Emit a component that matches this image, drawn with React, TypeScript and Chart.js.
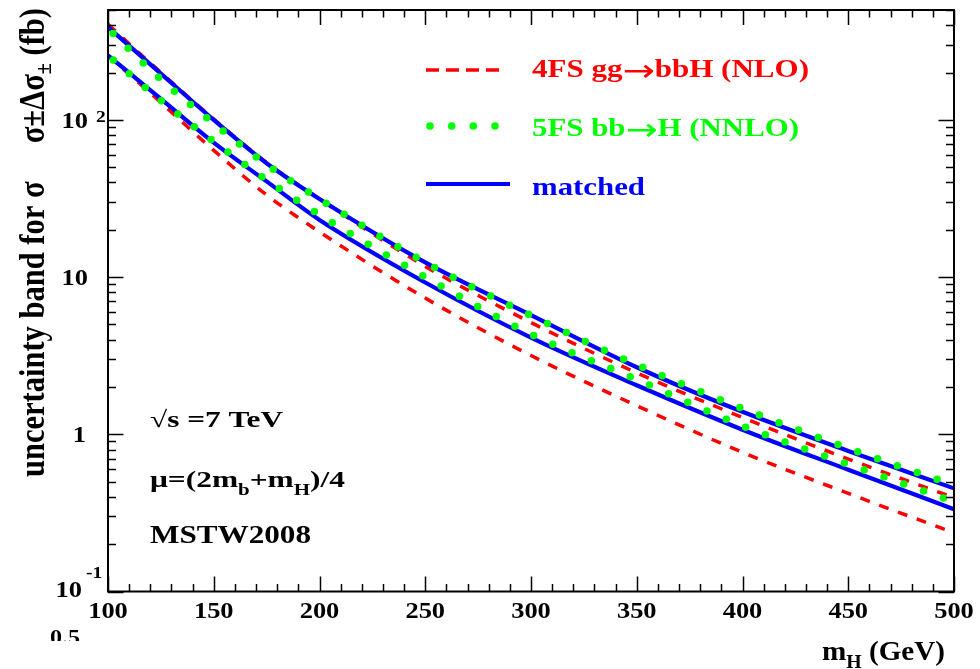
import React, { useEffect, useRef } from "react";
import { Chart, registerables } from "chart.js";

Chart.register(...registerables);

// ---- data ----
const massGeV = [100, 125, 150, 175, 200, 250, 300, 350, 400, 450, 500];
const fs4Upper = [405, 200, 101, 53.5, 31.4, 11.7, 5.14, 2.46, 1.28, 0.696, 0.395];
const fs4Lower = [257, 129, 64, 33.3, 19.4, 7.35, 3.17, 1.52, 0.768, 0.421, 0.236];
const fs5Upper = [380, 181, 95, 52, 31.4, 12.4, 5.7, 2.77, 1.46, 0.814, 0.475];
const fs5Lower = [257, 133, 72.8, 41.5, 24.9, 10.0, 4.33, 2.23, 1.13, 0.644, 0.372];
const matchedUpper = [389, 197, 100, 53, 31.4, 12.4, 5.73, 2.67, 1.39, 0.783, 0.453];
const matchedLower = [257, 136, 71.7, 40.6, 23.1, 9.24, 4.12, 2.05, 1.07, 0.595, 0.334];

const xTickValues = [100, 150, 200, 250, 300, 350, 400, 450, 500];
const xTickLabels = ["100", "150", "200", "250", "300", "350", "400", "450", "500"];
const yDecadeValues = [0.1, 1, 10, 100];
const infoLines = ["\u221As =7 TeV", "MSTW2008"];

const FONT = '"Liberation Serif", "Times New Roman", serif';
const ARROW_FONT = '"DejaVu Sans", sans-serif';
const RED = "#ff0000";
const GREEN = "#00ff00";
const BLUE = "#0000ff";

type Piece = { t: string; size: number; dy?: number; font?: string; weight?: string };

function fontOf(p: Piece) {
  return `${p.weight ?? "bold"} ${p.size}px ${p.font ?? FONT}`;
}

function drawRich(
  ctx: CanvasRenderingContext2D,
  pieces: Piece[],
  x: number,
  y: number,
  o: { width?: number; sx?: number; align?: "left" | "right" | "center"; color?: string; rot?: number; cross?: number }
) {
  ctx.save();
  let total = 0;
  const widths = pieces.map((p) => {
    ctx.font = fontOf(p);
    const w = ctx.measureText(p.t).width;
    total += w;
    return w;
  });
  const sx = o.width ? o.width / total : o.sx ?? 1;
  const W = total * sx;
  ctx.translate(x, y);
  if (o.rot) ctx.rotate(o.rot);
  let x0 = 0;
  if (o.align === "right") x0 = -W;
  else if (o.align === "center") x0 = -W / 2;
  ctx.translate(x0, 0);
  ctx.scale(sx, o.cross ?? 1);
  ctx.fillStyle = o.color ?? "#000";
  ctx.textAlign = "left";
  ctx.textBaseline = "alphabetic";
  let cx = 0;
  pieces.forEach((p, i) => {
    ctx.font = fontOf(p);
    ctx.fillText(p.t, cx, p.dy ?? 0);
    cx += widths[i];
  });
  ctx.restore();
}

const legend4FS: Piece[] = [
  { t: "4FS gg", size: 25 },
  { t: "\u2192", size: 31, font: ARROW_FONT, weight: "normal", dy: 4 },
  { t: "bbH (NLO)", size: 25 },
];
const legend5FS: Piece[] = [
  { t: "5FS bb", size: 25 },
  { t: "\u2192", size: 31, font: ARROW_FONT, weight: "normal", dy: 4 },
  { t: "H (NNLO)", size: 25 },
];
const legendMatched: Piece[] = [{ t: "matched", size: 25 }];

const decorPlugin = {
  id: "decor",
  afterDatasetsDraw(chart: any) {
    const ctx: CanvasRenderingContext2D = chart.ctx;
    const xs = chart.scales.x;
    const ys = chart.scales.y;
    const { left, right, top, bottom } = chart.chartArea;
    ctx.save();
    ctx.strokeStyle = "#000";
    ctx.lineWidth = 2;
    ctx.setLineDash([]);
    ctx.strokeRect(left, top, right - left, bottom - top);

    // x ticks (bottom + top, inward)
    ctx.lineWidth = 1.5;
    ctx.beginPath();
    for (let v = 100; v <= 500; v += 10) {
      const px = Math.round(xs.getPixelForValue(v)) + 0.5;
      const len = v % 50 === 0 ? 15 : 7.5;
      ctx.moveTo(px, bottom);
      ctx.lineTo(px, bottom - len);
      ctx.moveTo(px, top);
      ctx.lineTo(px, top + len);
    }
    // y ticks (left + right, inward)
    for (const d of yDecadeValues) {
      for (let k = 1; k <= 9; k++) {
        const v = d * k;
        if (v > 500) break;
        const py = Math.round(ys.getPixelForValue(v)) + 0.5;
        const len = k === 1 ? 15.5 : 8;
        ctx.moveTo(left, py);
        ctx.lineTo(left + len, py);
        ctx.moveTo(right, py);
        ctx.lineTo(right - len, py);
      }
    }
    ctx.stroke();

    // x tick labels
    xTickValues.forEach((v, i) => {
      drawRich(ctx, [{ t: xTickLabels[i], size: 23 }], xs.getPixelForValue(v), 618, { sx: 1.15, align: "center" });
    });

    // y tick labels
    const py100 = ys.getPixelForValue(100);
    drawRich(ctx, [{ t: "10", size: 23 }], 88, py100 + 8, { sx: 1.15, align: "right" });
    drawRich(ctx, [{ t: "2", size: 17 }], 96, py100 + 2, { sx: 1.15 });
    const py10 = ys.getPixelForValue(10);
    drawRich(ctx, [{ t: "10", size: 23 }], 88, py10 + 8, { sx: 1.15, align: "right" });
    const py1 = ys.getPixelForValue(1);
    drawRich(ctx, [{ t: "1", size: 23 }], 86, py1 + 8, { sx: 1.15, align: "right" });
    drawRich(ctx, [{ t: "10", size: 23 }], 82, 597, { sx: 1.15, align: "right" });
    drawRich(ctx, [{ t: "-1", size: 17 }], 86, 578, { sx: 1.15 });

    // stray label at the bottom-left
    ctx.save();
    ctx.beginPath();
    ctx.rect(0, 600, 200, 41);
    ctx.clip();
    drawRich(ctx, [{ t: "0.5", size: 21 }], 50, 644, { sx: 1.15 });
    ctx.restore();

    // axis titles
    drawRich(
      ctx,
      [
        { t: "m", size: 28 },
        { t: "H", size: 19, dy: 8 },
        { t: " (GeV)", size: 28 },
      ],
      822,
      660,
      { width: 123 }
    );
    drawRich(
      ctx,
      [
        { t: "uncertainty band for \u03C3     \u03C3\u00B1\u0394\u03C3", size: 30 },
        { t: "\u00B1", size: 20, dy: 6 },
        { t: " (fb)", size: 30 },
      ],
      44,
      477,
      { width: 469, rot: -Math.PI / 2, cross: 1.17 }
    );

    // legend samples
    ctx.lineCap = "butt";
    ctx.strokeStyle = RED;
    ctx.lineWidth = 3.5;
    ctx.setLineDash([13, 7]);
    ctx.beginPath();
    ctx.moveTo(426, 70);
    ctx.lineTo(500, 70);
    ctx.stroke();
    ctx.setLineDash([]);
    ctx.fillStyle = GREEN;
    [430, 451.7, 473.3, 495].forEach((cx) => {
      ctx.beginPath();
      ctx.arc(cx, 126, 3.8, 0, Math.PI * 2);
      ctx.fill();
    });
    ctx.strokeStyle = BLUE;
    ctx.lineWidth = 4;
    ctx.beginPath();
    ctx.moveTo(426, 184);
    ctx.lineTo(510, 184);
    ctx.stroke();

    drawRich(ctx, legend4FS, 532, 77, { width: 277, color: RED });
    drawRich(ctx, legend5FS, 532, 136, { width: 267, color: GREEN });
    drawRich(ctx, legendMatched, 532, 195, { width: 113, color: BLUE });

    // info text
    drawRich(ctx, [{ t: infoLines[0], size: 23 }], 150, 427, { width: 133 });
    drawRich(
      ctx,
      [
        { t: "\u03BC=(2m", size: 24 },
        { t: "b", size: 16, dy: 8 },
        { t: "+m", size: 24 },
        { t: "H", size: 16, dy: 8 },
        { t: ")/4", size: 24 },
      ],
      150,
      487,
      { width: 195 }
    );
    drawRich(ctx, [{ t: infoLines[1], size: 25 }], 150, 543, { width: 161 });
    ctx.restore();
  },
};

function series(vals: number[]) {
  return massGeV.map((m, i) => ({ x: m, y: vals[i] }));
}

export default function App() {
  const ref = useRef<HTMLCanvasElement>(null);
  useEffect(() => {
    const canvas = ref.current!;
    const common = { pointRadius: 0, cubicInterpolationMode: "monotone" as const, fill: false };
    const green = { ...common, borderColor: GREEN, borderWidth: 7.5, borderDash: [0, 21], borderDashOffset: 14, borderCapStyle: "round" as const };
    const blue = { ...common, borderColor: BLUE, borderWidth: 4.2 };
    const red = { ...common, borderColor: RED, borderWidth: 3.5, borderDash: [10, 10] };
    const chart = new Chart(canvas, {
      type: "line",
      data: {
        datasets: [
          { label: "5FS upper", data: series(fs5Upper), ...green },
          { label: "5FS lower", data: series(fs5Lower), ...green },
          { label: "matched upper", data: series(matchedUpper), ...blue },
          { label: "matched lower", data: series(matchedLower), ...blue },
          { label: "4FS upper", data: series(fs4Upper), ...red },
          { label: "4FS lower", data: series(fs4Lower), ...red },
        ],
      },
      options: {
        responsive: false,
        animation: false,
        devicePixelRatio: 1,
        layout: { padding: { left: 108, right: 26, top: 10, bottom: 77.5 } },
        scales: {
          x: { type: "linear", min: 100, max: 500, display: false },
          y: { type: "logarithmic", min: 0.1, max: 500, display: false },
        },
        plugins: { legend: { display: false }, tooltip: { enabled: false } },
      },
      plugins: [decorPlugin],
    });
    return () => chart.destroy();
  }, []);
  return (
    <canvas
      ref={ref}
      width={980}
      height={669}
      style={{ position: "absolute", left: 0, top: 0, width: 980, height: 669, background: "#fff" }}
    />
  );
}
